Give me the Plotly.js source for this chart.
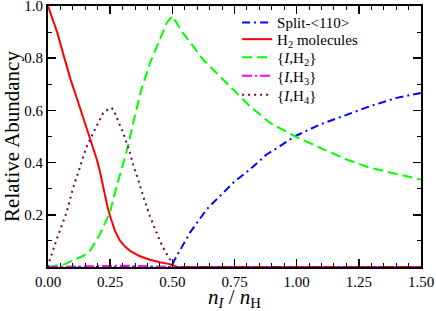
<!DOCTYPE html>
<html><head><meta charset="utf-8">
<script src="https://cdn.plot.ly/plotly-3.0.1.min.js"></script>
<style>html,body{margin:0;padding:0;background:#fff;}#chart{width:436px;height:311px;}</style>
</head><body><div id="chart"></div>
<script>
const splitX = [0, 0.25, 0.497, 0.504, 0.571, 0.638, 0.692, 0.745, 0.812, 0.879, 0.933, 0.993, 1.094, 1.201, 1.295, 1.402, 1.5];
const splitY = [0, 0, 0, 0.018, 0.132, 0.221, 0.272, 0.323, 0.374, 0.431, 0.463, 0.501, 0.546, 0.584, 0.616, 0.648, 0.667];
const h2molX = [0, 0.038, 0.064, 0.091, 0.118, 0.145, 0.172, 0.185, 0.197, 0.209, 0.219, 0.229, 0.239, 0.249, 0.259, 0.269, 0.29, 0.31, 0.33, 0.37, 0.41, 0.45, 0.49, 0.52, 1.5];
const h2molY = [1.0, 0.896, 0.807, 0.718, 0.641, 0.565, 0.489, 0.452, 0.41, 0.365, 0.318, 0.272, 0.232, 0.197, 0.166, 0.139, 0.1, 0.078, 0.062, 0.041, 0.028, 0.018, 0.011, 0, 0];
const ih2X = [0, 0.068, 0.142, 0.169, 0.209, 0.249, 0.263, 0.29, 0.323, 0.35, 0.377, 0.41, 0.45, 0.477, 0.5, 0.54, 0.584, 0.624, 0.678, 0.718, 0.812, 0.893, 0.993, 1.094, 1.201, 1.295, 1.402, 1.5];
const ih2Y = [0, 0.011, 0.043, 0.062, 0.126, 0.209, 0.263, 0.352, 0.467, 0.582, 0.685, 0.781, 0.876, 0.934, 0.962, 0.9, 0.845, 0.794, 0.743, 0.705, 0.616, 0.552, 0.501, 0.457, 0.412, 0.38, 0.355, 0.335];
const ih3X = [0, 0.05, 0.1, 0.2, 0.3, 0.4, 0.45, 0.5, 1.5];
const ih3Y = [0, 0.001, 0.002, 0.004, 0.005, 0.003, 0.002, 0, 0];
const ih4X = [0, 0.008, 0.04, 0.075, 0.1, 0.129, 0.155, 0.182, 0.205, 0.222, 0.25, 0.263, 0.283, 0.303, 0.33, 0.343, 0.363, 0.383, 0.41, 0.43, 0.45, 0.47, 0.49, 0.5, 1.5];
const ih4Y = [0, 0.03, 0.12, 0.209, 0.3, 0.387, 0.46, 0.514, 0.56, 0.59, 0.61, 0.605, 0.557, 0.512, 0.436, 0.391, 0.333, 0.27, 0.195, 0.145, 0.1, 0.062, 0.03, 0, 0];
const seriesNames = ['Split-&lt;110&gt;', 'H<sub>2</sub> molecules', '{<i>I</i>,H<sub>2</sub>}', '{<i>I</i>,H<sub>3</sub>}', '{<i>I</i>,H<sub>4</sub>}'];
const xTickVals = [0, 0.25, 0.5, 0.75, 1.0, 1.25, 1.5];
const xTickText = ['0.00', '0.25', '0.50', '0.75', '1.00', '1.25', '1.50'];
const yTickVals = [0.2, 0.4, 0.6, 0.8, 1.0];
const yTickText = ['0.2', '0.4', '0.6', '0.8', '1.0'];

const serif = 'Liberation Serif';
const traces = [
  {x: splitX, y: splitY, name: seriesNames[0], legend: 'legend', mode: 'lines', line: {color: '#0000ff', width: 2, dash: '8px,4px,2px,4px'}},
  {x: h2molX, y: h2molY, name: seriesNames[1], legend: 'legend2', mode: 'lines', line: {color: '#ff0000', width: 2}},
  {x: ih2X, y: ih2Y, name: seriesNames[2], legend: 'legend3', mode: 'lines', line: {color: '#00ff00', width: 2, dash: '10px,5px'}},
  {x: ih3X, y: ih3Y, name: seriesNames[3], legend: 'legend4', mode: 'lines', line: {color: '#ff00ff', width: 2, dash: '10px,3px,2px,3px'}},
  {x: ih4X, y: ih4Y, name: seriesNames[4], legend: 'legend5', mode: 'lines', line: {color: '#670748', width: 2, dash: '2px,4px'}}
];
const legendRowsY = [0.936, 0.872, 0.803, 0.732, 0.659];
function legendAt(yy) {
  return {x: 0.507, y: yy, xanchor: 'left', yanchor: 'middle', bgcolor: 'rgba(0,0,0,0)', borderwidth: 0,
          font: {family: serif, size: 15, color: '#000'}};
}
const axisCommon = {
  showline: true, linecolor: '#000', linewidth: 2, mirror: 'ticks',
  ticks: 'inside', ticklen: 8, tickwidth: 1.5, tickcolor: '#000',
  showgrid: false, zeroline: false, ticklabeloverflow: 'allow',
  tickfont: {family: serif, size: 15, color: '#000'}
};
const layout = {
  width: 436, height: 311,
  margin: {l: 48, r: 15, t: 6, b: 44},
  paper_bgcolor: '#fff', plot_bgcolor: '#fff',
  showlegend: true,
  legend: legendAt(legendRowsY[0]),
  legend2: legendAt(legendRowsY[1]),
  legend3: legendAt(legendRowsY[2]),
  legend4: legendAt(legendRowsY[3]),
  legend5: legendAt(legendRowsY[4]),
  xaxis: Object.assign({}, axisCommon, {
    range: [0, 1.5], tickvals: xTickVals, ticktext: xTickText,
    minor: {dtick: 0.05, ticklen: 4, tickwidth: 1, tickcolor: '#000', ticks: 'inside'},
    title: {text: '<i>n</i><sub><i>I</i></sub> / <i>n</i><sub>H</sub>', font: {family: serif, size: 21, color: '#000'}, standoff: 4}
  }),
  yaxis: Object.assign({}, axisCommon, {
    range: [0, 1], tickvals: yTickVals, ticktext: yTickText,
    minor: {dtick: 0.1, ticklen: 4, tickwidth: 1, tickcolor: '#000', ticks: 'inside'},
    title: {text: 'Relative Abundancy', font: {family: serif, size: 21, color: '#000'}, standoff: 4}
  })
};
Plotly.newPlot('chart', traces, layout, {displayModeBar: false, staticPlot: true});
</script></body></html>
